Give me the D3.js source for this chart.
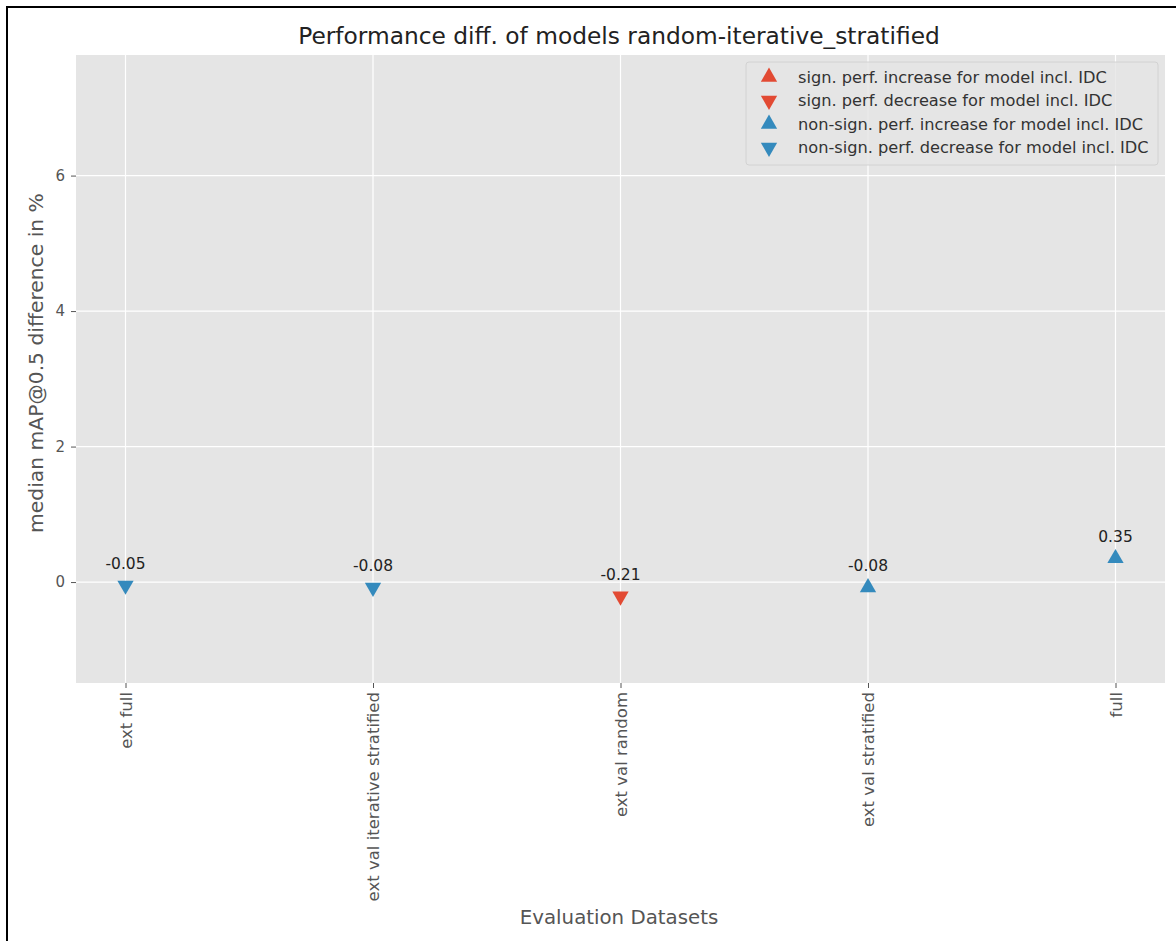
<!DOCTYPE html>
<html>
<head>
<meta charset="utf-8">
<script src="https://cdn.jsdelivr.net/npm/d3@7"></script>
<style>
  html, body { margin: 0; padding: 0; background: #fff; }
  svg { display: block; font-family: "DejaVu Sans", sans-serif; }
</style>
</head>
<body>
<svg id="chart" width="1176" height="941"></svg>
<script>
// Evaluation datasets and median mAP@0.5 differences (%)
const categories = ["ext full", "ext val iterative stratified", "ext val random", "ext val stratified", "full"];
const values = [-0.05, -0.08, -0.21, -0.08, 0.35];
// marker kind per dataset: significance + direction of the marker
const markerKinds = ["nonsig-dec", "nonsig-dec", "sig-dec", "nonsig-inc", "nonsig-inc"];
const yTicks = [0, 2, 4, 6];
const legendKinds = ["sig-inc", "sig-dec", "nonsig-inc", "nonsig-dec"];
const legendLabels = [
  "sign. perf. increase for model incl. IDC",
  "sign. perf. decrease for model incl. IDC",
  "non-sign. perf. increase for model incl. IDC",
  "non-sign. perf. decrease for model incl. IDC"
];

const RED = "#E24A33", BLUE = "#348ABD";
const kindStyle = {
  "sig-inc":    { color: RED,  up: true },
  "sig-dec":    { color: RED,  up: false },
  "nonsig-inc": { color: BLUE, up: true },
  "nonsig-dec": { color: BLUE, up: false }
};

const svg = d3.select("#chart");
const plot = { left: 76, top: 55, right: 1165, bottom: 683 };

// frame lines around the figure
svg.append("line").attr("x1", 6).attr("x2", 1176).attr("y1", 7).attr("y2", 7)
  .attr("stroke", "#000").attr("stroke-width", 2);
svg.append("line").attr("x1", 7).attr("x2", 7).attr("y1", 6).attr("y2", 941)
  .attr("stroke", "#000").attr("stroke-width", 2);

const x = d3.scaleLinear().domain([-0.2, categories.length - 1 + 0.2]).range([plot.left, plot.right]);
const y = d3.scaleLinear().domain([-1.49, 7.78]).range([plot.bottom, plot.top]);

// plot background
svg.append("rect")
  .attr("x", plot.left).attr("y", plot.top)
  .attr("width", plot.right - plot.left).attr("height", plot.bottom - plot.top)
  .attr("fill", "#E5E5E5");

// grid
const grid = svg.append("g");
grid.selectAll(".gy").data(yTicks).join("line")
  .attr("x1", plot.left).attr("x2", plot.right)
  .attr("y1", d => y(d)).attr("y2", d => y(d))
  .attr("stroke", "#fff").attr("stroke-width", 1.2);
grid.selectAll(".gx").data(categories).join("line")
  .attr("x1", (d, i) => x(i)).attr("x2", (d, i) => x(i))
  .attr("y1", plot.top).attr("y2", plot.bottom)
  .attr("stroke", "#fff").attr("stroke-width", 1.2);

// y axis
const yAxis = svg.append("g")
  .attr("transform", `translate(${plot.left},0)`)
  .call(d3.axisLeft(y).tickValues(yTicks).tickFormat(d3.format("d")).tickSize(5).tickPadding(6));
yAxis.select(".domain").remove();
yAxis.selectAll(".tick line").attr("stroke", "#555").attr("stroke-width", 1);
yAxis.selectAll(".tick text").attr("fill", "#555").attr("font-size", 15)
  .attr("font-family", "DejaVu Sans, sans-serif");

// x axis with rotated labels
const xAxis = svg.append("g")
  .attr("transform", `translate(0,${plot.bottom})`)
  .call(d3.axisBottom(x).tickValues(d3.range(categories.length)).tickFormat(i => categories[i]).tickSize(5));
xAxis.select(".domain").remove();
xAxis.selectAll(".tick line").attr("stroke", "#555").attr("stroke-width", 1);
xAxis.selectAll(".tick text")
  .attr("fill", "#555").attr("font-size", 16.5).attr("font-family", "DejaVu Sans, sans-serif")
  .attr("transform", "rotate(-90)")
  .attr("x", -9).attr("y", 0).attr("dy", "0.35em")
  .attr("text-anchor", "end");

// triangle markers
const tri = d3.symbol().type(d3.symbolTriangle).size(115);
function drawMarker(sel, kind) {
  const s = kindStyle[kind];
  sel.append("path").attr("d", tri())
    .attr("fill", s.color)
    .attr("transform", s.up ? "" : "rotate(180)");
}

const fmt = v => v.toFixed(2);
const pts = svg.append("g");
values.forEach((v, i) => {
  const g = pts.append("g").attr("transform", `translate(${x(i)},${y(v)})`);
  drawMarker(g, markerKinds[i]);
  g.append("text")
    .attr("x", 0).attr("y", -16)
    .attr("text-anchor", "middle")
    .attr("font-size", 15.5).attr("fill", "#222")
    .text(fmt(v));
});

// legend
const leg = svg.append("g").attr("transform", "translate(746,62)");
leg.append("rect").attr("width", 412).attr("height", 103).attr("rx", 3)
  .attr("fill", "#E5E5E5").attr("fill-opacity", 0.8)
  .attr("stroke", "#d2d2d2").attr("stroke-width", 1);
legendKinds.forEach((k, i) => {
  const row = leg.append("g").attr("transform", `translate(23,${15 + i * 23.5})`);
  drawMarker(row, k);
  row.append("text").attr("x", 29).attr("y", 0).attr("dy", "0.35em")
    .attr("font-size", 16.2).attr("fill", "#333").text(legendLabels[i]);
});

// title and axis labels
svg.append("text").attr("x", 619).attr("y", 44)
  .attr("text-anchor", "middle").attr("font-size", 23.3).attr("fill", "#222")
  .text("Performance diff. of models random-iterative_stratified");
svg.append("text").attr("x", 619).attr("y", 924)
  .attr("text-anchor", "middle").attr("font-size", 19.8).attr("fill", "#555")
  .text("Evaluation Datasets");
svg.append("text")
  .attr("transform", `translate(43,363) rotate(-90)`)
  .attr("text-anchor", "middle").attr("font-size", 20.3).attr("fill", "#555")
  .text("median mAP@0.5 difference in %");
</script>
</body>
</html>
